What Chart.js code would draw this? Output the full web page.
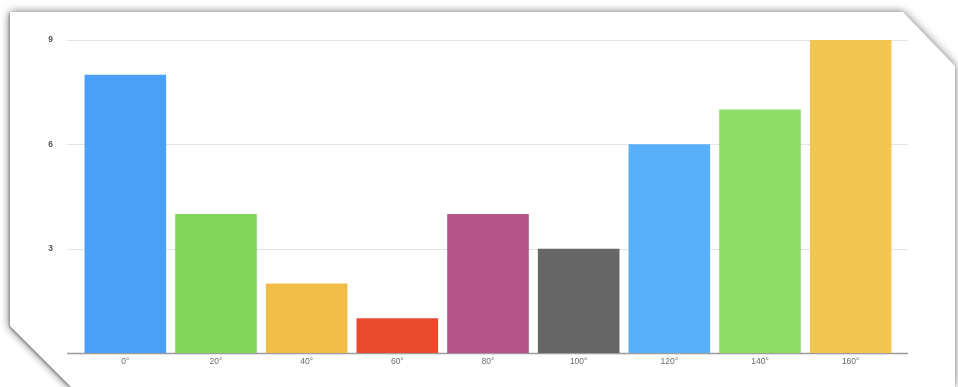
<!DOCTYPE html>
<html>
<head>
<meta charset="utf-8">
<script src="https://cdn.jsdelivr.net/npm/chart.js@4/dist/chart.umd.min.js"></script>
<style>
  html, body { margin: 0; padding: 0; background: #ffffff; }
  body { width: 958px; height: 387px; position: relative; overflow: hidden; }
  .frame {
    position: absolute; left: 0; top: 0; width: 958px; height: 387px;
    filter: drop-shadow(0 0 5px rgba(0,0,0,0.45)) drop-shadow(-1px 1px 1px rgba(0,0,0,0.35));
  }
  .card {
    position: absolute; left: 0; top: 0; width: 958px; height: 387px;
    background: #ffffff;
    clip-path: polygon(10px 12px, 903px 12px, 955px 66px, 955px 387px, 71px 387px, 10px 326px);
  }
  #chart { position: absolute; left: 0; top: 0; }
</style>
</head>
<body>
<div class="frame"><div class="card"></div></div>
<canvas id="chart" width="958" height="387"></canvas>
<script>
// Angle buckets and their counts
const categories = ['0°', '20°', '40°', '60°', '80°', '100°', '120°', '140°', '160°'];
const counts = [8, 4, 2, 1, 4, 3, 6, 7, 9];
const barColors = ['#4a9ff6', '#83d65b', '#f0bd48', '#e84a2e', '#b35587', '#666666', '#5aaff9', '#8fdc66', '#f2c651'];
const yTicks = [0, 3, 6, 9];

// Horizontal guide lines, running a little past the bar area on both sides
const guideLines = {
  id: 'guideLines',
  beforeDatasetsDraw(chart) {
    const { ctx, chartArea, scales } = chart;
    const y = scales.y;
    const left = chartArea.left - 13;
    const right = chartArea.right + 12;
    ctx.save();
    yTicks.forEach(v => {
      const py = Math.round(y.getPixelForValue(v)) + 0.5;
      ctx.beginPath();
      ctx.strokeStyle = v === 0 ? '#9c9c9c' : '#e4e4e4';
      ctx.lineWidth = v === 0 ? 1.5 : 1;
      ctx.moveTo(left, py);
      ctx.lineTo(right, py);
      ctx.stroke();
    });
    ctx.restore();
  }
};

new Chart(document.getElementById('chart'), {
  type: 'bar',
  data: {
    labels: categories,
    datasets: [{
      data: counts,
      backgroundColor: barColors,
      borderWidth: 0,
      categoryPercentage: 0.9,
      barPercentage: 1.0
    }]
  },
  options: {
    responsive: false,
    animation: false,
    layout: { padding: { left: 0, right: 62, top: 40, bottom: 0 } },
    plugins: { legend: { display: false }, tooltip: { enabled: false } },
    scales: {
      x: {
        grid: { display: false, drawTicks: false },
        border: { display: false },
        ticks: {
          color: '#6a6a6a',
          font: { family: 'Liberation Sans, Arial, sans-serif', size: 8.5 },
          padding: 4,
          maxRotation: 0
        },
        afterFit(scale) { scale.height = 34; }
      },
      y: {
        min: 0,
        max: 9,
        grid: { display: false, drawTicks: false },
        border: { display: false },
        ticks: {
          stepSize: 3,
          color: '#555555',
          font: { family: 'Liberation Sans, Arial, sans-serif', size: 8.5, weight: 'bold' },
          padding: 27,
          callback: v => (v === 0 ? '' : String(v))
        },
        afterFit(scale) { scale.width = 80; }
      }
    }
  },
  plugins: [guideLines]
});
</script>
</body>
</html>
